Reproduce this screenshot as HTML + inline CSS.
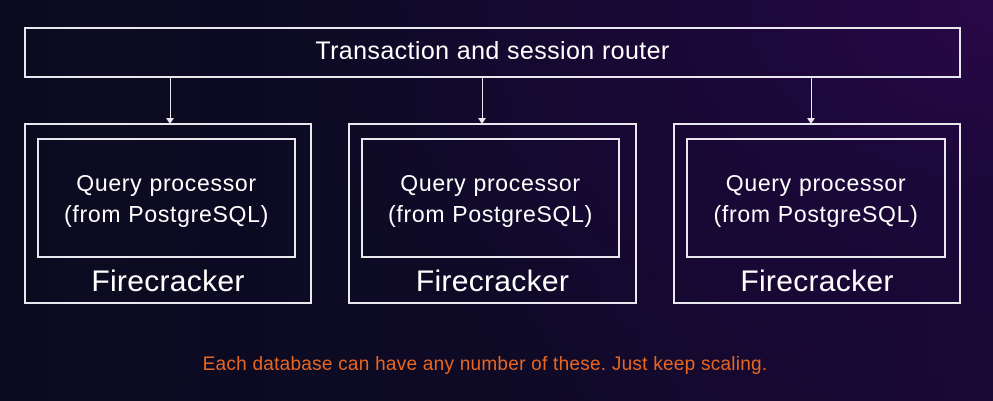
<!DOCTYPE html>
<html><head><style>
html,body{margin:0;padding:0}
body{width:993px;height:401px;overflow:hidden;position:relative;
background:radial-gradient(ellipse 700px 500px at 1000px 0px,#2a0848 0%,#1a0838 40%,rgba(12,10,34,0) 100%),linear-gradient(90deg,#0b0b20 0%,#0e0a26 50%,#1a0836 100%);
font-family:"Liberation Sans",sans-serif;color:#fff}
.b{position:absolute;border:2px solid #e8e8ee;box-sizing:border-box}
.t{position:absolute;text-align:center;white-space:nowrap}
.a{position:absolute;width:1.5px;background:#e8e8ee}
.h{position:absolute;width:0;height:0;border-left:4px solid transparent;border-right:4px solid transparent;border-top:6px solid #e8e8ee}
.q{font-size:23px;line-height:31px;letter-spacing:0.7px;top:168px}
.f{font-size:30px;top:265px;letter-spacing:0.3px}
</style></head><body>
<div class="b" style="left:24px;top:27px;width:937px;height:51px"></div>
<div class="t" style="left:24px;width:937px;top:37px;font-size:25px;letter-spacing:0.4px">Transaction and session router</div>

<div class="a" style="left:169.5px;top:77px;height:42px"></div><div class="h" style="left:166px;top:118px"></div>
<div class="a" style="left:481.5px;top:77px;height:42px"></div><div class="h" style="left:478px;top:118px"></div>
<div class="a" style="left:810.5px;top:77px;height:42px"></div><div class="h" style="left:807px;top:118px"></div>

<div class="b" style="left:24px;top:123px;width:288px;height:181px"></div>
<div class="b" style="left:37px;top:138px;width:259px;height:120px"></div>
<div class="t q" style="left:37px;width:259px">Query processor<br>(from PostgreSQL)</div>
<div class="t f" style="left:24px;width:288px">Firecracker</div>

<div class="b" style="left:348px;top:123px;width:289px;height:181px"></div>
<div class="b" style="left:361px;top:138px;width:259px;height:120px"></div>
<div class="t q" style="left:361px;width:259px">Query processor<br>(from PostgreSQL)</div>
<div class="t f" style="left:348px;width:289px">Firecracker</div>

<div class="b" style="left:673px;top:123px;width:288px;height:181px"></div>
<div class="b" style="left:686px;top:138px;width:260px;height:120px"></div>
<div class="t q" style="left:686px;width:260px">Query processor<br>(from PostgreSQL)</div>
<div class="t f" style="left:673px;width:288px">Firecracker</div>

<div class="t" style="left:0;width:970px;top:354px;font-size:19px;letter-spacing:0.25px;color:#e8661f">Each database can have any number of these. Just keep scaling.</div>
</body></html>
